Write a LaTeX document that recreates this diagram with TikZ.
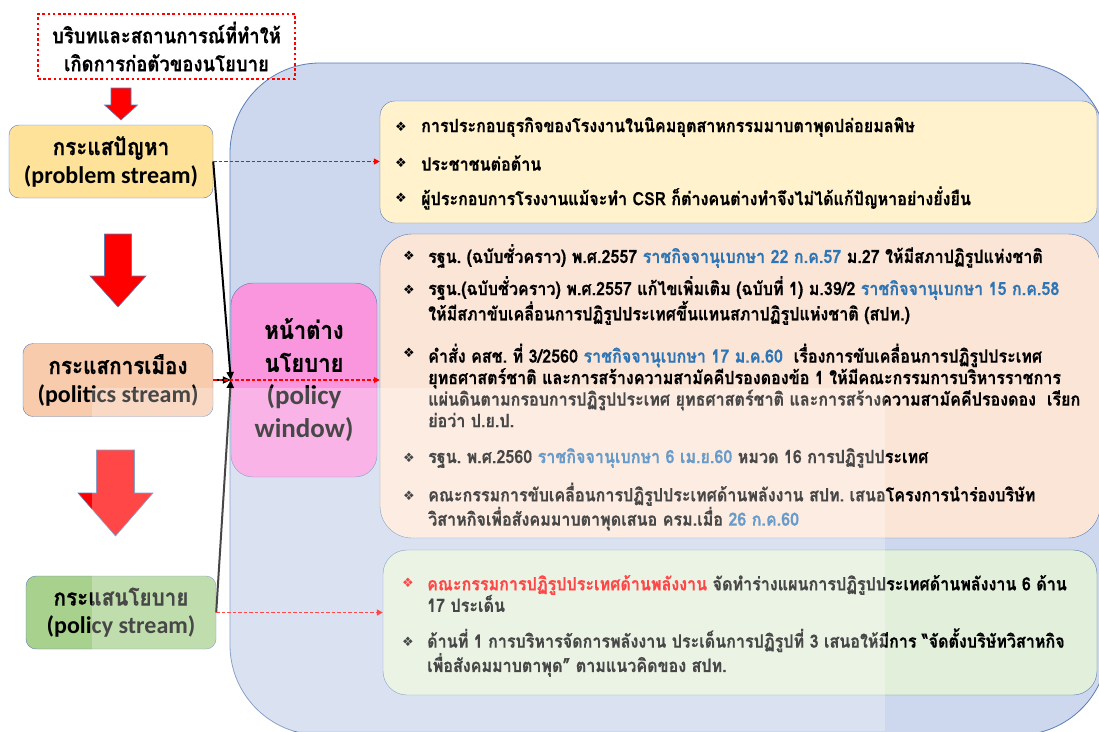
\documentclass[tikz,border=0pt]{standalone}
\usepackage{fontspec}
\setmainfont{Carlito}
\newfontfamily\thai[Script=Thai,FakeStretch=0.88,BoldFeatures={FakeBold=0.5}]{Loma}
\newfontfamily\dejavu{DejaVu Sans}
\usepackage{xcolor}
\usetikzlibrary{shapes, positioning, arrows.meta}

\definecolor{frameblue}{HTML}{5B7DB5}
\definecolor{bgblue}{HTML}{CDD8EE}
\definecolor{probfill}{HTML}{FFE29A}
\definecolor{polfill}{HTML}{F8CBAD}
\definecolor{policyfill}{HTML}{A9D18E}
\definecolor{winfill}{HTML}{F996DE}
\definecolor{probitem}{HTML}{FFF2CC}
\definecolor{politem}{HTML}{FBE5D6}
\definecolor{policyitem}{HTML}{E2EFDA}
\definecolor{linkblue}{HTML}{2E75B6}

\newcommand{\lnk}[1]{\textcolor{linkblue}{#1}}
\newcommand{\streamheadfont}{\thai\fontsize{23.5}{28}\selectfont}
\frenchspacing

\tikzset{
  streambox/.style={draw=frameblue, rounded corners=10pt, align=center, inner sep=0pt,
    minimum width=190pt, minimum height=73pt, font=\bfseries\fontsize{24}{28}\selectfont},
  itembox/.style={draw=frameblue, rounded corners=#1},
  bul/.style={font=\dejavu\fontsize{13}{13}\selectfont, inner sep=0pt},
  itemtext/.style={font=\thai\bfseries\fontsize{18.3}{21.5}\selectfont, align=left, anchor=west, inner sep=0pt},
  reddash/.style={red, line width=1.6pt, dash pattern=on 3.5pt off 2pt, -{Triangle[length=6pt,width=6pt]}},
  blackarrow/.style={black, line width=2pt, -{Triangle[length=8pt,width=7pt]}},
  blockarrow/.style={draw=frameblue, fill=red, line width=0.6pt},
}

\begin{document}
\begin{tikzpicture}[x=1pt, y=-1pt]
  \useasboundingbox (0,0) rectangle (1099,731);
  \clip (0,0) rectangle (1099,731);

  % big background panel
  \draw[draw=frameblue, fill=bgblue, line width=0.8pt, rounded corners=90pt] (230,63) rectangle (1108,735);

  % context box
  \node[draw=red, line width=2.6pt, dash pattern=on 2.6pt off 2.6pt, minimum width=257pt, minimum height=65pt,
        align=center, inner sep=0pt, font=\thai\bfseries\fontsize{21}{28}\selectfont]
        (context) at (166.5,46.5) {บริบทและสถานการณ์ที่ทำให้\\เกิดการก่อตัวของนโยบาย};

  % down arrows
  \foreach \cx/\yt/\yb/\sw/\hw/\hl in {121/88/120/10/16.5/15, 118/234/307/13.5/28/31, 115.5/450/536/19/37.5/43} {
    \draw[blockarrow] (\cx-\sw,\yt) -- (\cx+\sw,\yt) -- (\cx+\sw,\yb-\hl) -- (\cx+\hw,\yb-\hl)
      -- (\cx,\yb) -- (\cx-\hw,\yb-\hl) -- (\cx-\sw,\yb-\hl) -- cycle;
  }

  % three streams
  \node[streambox, fill=probfill, minimum width=204pt] (prob) at (111,161.5) {{\streamheadfont กระแสปัญหา}\\(problem stream)};
  \node[streambox, fill=polfill] (pol) at (118,380) {{\streamheadfont กระแสการเมือง}\\(politics stream)};
  \node[streambox, fill=policyfill] (policy) at (121,612.5) {{\streamheadfont กระแสนโยบาย}\\(policy stream)};

  % policy window
  \node[draw=frameblue, fill=winfill, rounded corners=22pt, minimum width=146pt, minimum height=194pt,
        align=center, inner sep=0pt, font=\bfseries\fontsize{27}{33}\selectfont]
        (win) at (304,380) {{\thai\fontsize{25}{33}\selectfont หน้าต่าง}\\{\thai\fontsize{25}{33}\selectfont นโยบาย}\\(policy\\window)};

  % item boxes
  \node[itembox=15pt, fill=probitem, minimum width=717pt, minimum height=122pt] (probbox) at (738.5,162) {};
  \node[itembox=32pt, fill=politem, minimum width=720pt, minimum height=304pt] (polbox) at (740,386) {};
  \node[itembox=24pt, fill=policyitem, minimum width=714pt, minimum height=145pt] (policybox) at (740,622.5) {};

  % problem items
  \foreach \y/\t [count=\i] in {127/{การประกอบธุรกิจของโรงงานในนิคมอุตสาหกรรมมาบตาพุดปล่อยมลพิษ},
      163/{ประชาชนต่อต้าน},
      198/{ผู้ประกอบการโรงงานแม้จะทำ CSR ก็ต่างคนต่างทำจึงไม่ได้แก้ปัญหาอย่างยั่งยืน}} {
    \node[bul] (pb\i) at (401,\y) {❖};
    \node[itemtext] (pt\i) at (421,\y) {\t};
  }

  % politics items
  \node[bul] (lb1) at (409,256) {❖};
  \node[itemtext] (lt1) at (428,256) {รฐน. (ฉบับชั่วคราว) พ.ศ.2557 \lnk{ราชกิจจานุเบกษา 22 ก.ค.57} ม.27 ให้มีสภาปฏิรูปแห่งชาติ};
  \node[bul] (lb2) at (409,290) {❖};
  \node[itemtext] (lt2) at (428,300.5) {รฐน.(ฉบับชั่วคราว) พ.ศ.2557 แก้ไขเพิ่มเติม (ฉบับที่ 1) ม.39/2 \lnk{ราชกิจจานุเบกษา 15 ก.ค.58}\\
    ให้มีสภาขับเคลื่อนการปฏิรูปประเทศขึ้นแทนสภาปฏิรูปแห่งชาติ (สปท.)};
  \node[bul] (lb3) at (409,353) {❖};
  \node[itemtext] (lt3) at (428,385.5) {คำสั่ง คสช. ที่ 3/2560 \lnk{ราชกิจจานุเบกษา 17 ม.ค.60}\ \ เรื่องการขับเคลื่อนการปฏิรูปประเทศ\\
    ยุทธศาสตร์ชาติ และการสร้างความสามัคคีปรองดองข้อ 1 ให้มีคณะกรรมการบริหารราชการ\\
    แผ่นดินตามกรอบการปฏิรูปประเทศ ยุทธศาสตร์ชาติ และการสร้างความสามัคคีปรองดอง\ \ เรียก\\
    ย่อว่า ป.ย.ป.};
  \node[bul] (lb4) at (409,458) {❖};
  \node[itemtext] (lt4) at (428,458) {รฐน. พ.ศ.2560 \lnk{ราชกิจจานุเบกษา 6 เม.ย.60} หมวด 16 การปฏิรูปประเทศ};
  \node[bul] (lb5) at (409,496) {❖};
  \node[itemtext] (lt5) at (428,506.5) {คณะกรรมการขับเคลื่อนการปฏิรูปประเทศด้านพลังงาน สปท. เสนอโครงการนำร่องบริษัท\\
    วิสาหกิจเพื่อสังคมมาบตาพุดเสนอ ครม.เมื่อ \lnk{26 ก.ค.60}};

  % policy items
  \node[bul, red] (yb1) at (408,583) {❖};
  \node[itemtext] (yt1) at (427,593.5) {\textcolor{red}{คณะกรรมการปฏิรูปประเทศด้านพลังงาน} จัดทำร่างแผนการปฏิรูปประเทศด้านพลังงาน 6 ด้าน\\
    17 ประเด็น};
  \node[bul] (yb2) at (408,642) {❖};
  \node[itemtext] (yt2) at (427,652.5) {ด้านที่ 1 การบริหารจัดการพลังงาน ประเด็นการปฏิรูปที่ 3 เสนอให้มีการ “จัดตั้งบริษัทวิสาหกิจ\\
    เพื่อสังคมมาบตาพุด” ตามแนวคิดของ สปท.};

  % connectors
  \draw[blackarrow] (prob.east) -- (win.west);
  \draw[blackarrow] (pol.east) -- (win.west);
  \draw[blackarrow] (policy.east) -- (win.west);
  \draw[reddash] (prob.east) -- (prob.east -| probbox.west);
  \draw[reddash] (pol.east) -- (pol.east -| polbox.west);
  \draw[reddash] (policy.east) -- (policy.east -| policybox.west);

  % faded watermark area
  \fill[white, opacity=0.28] (92,388) rectangle (885,731);
\end{tikzpicture}
\end{document}
